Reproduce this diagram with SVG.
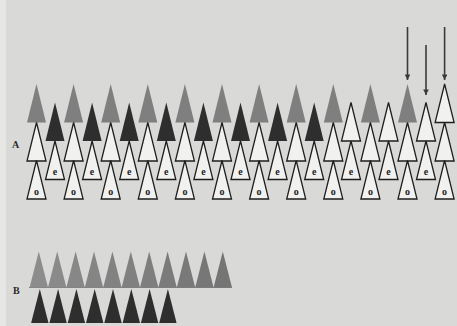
<svg xmlns="http://www.w3.org/2000/svg" xmlns:xlink="http://www.w3.org/1999/xlink" width="457" height="326" viewBox="0 0 457 326">
<style>
.w{fill:#f1f1ef;stroke:#1e1e1e;stroke-width:1.3;stroke-linejoin:miter}
.g{fill:#7f7f7f}
.d{fill:#2e2e2e}
.lt{font-family:"Liberation Serif",serif;font-size:10px;font-weight:bold;fill:#222222;text-anchor:middle}
.lab{font-family:"Liberation Serif",serif;font-size:10px;font-weight:bold;fill:#2a2a2a}
.arr{stroke:#3a3a3a;stroke-width:1.6;fill:none}
</style>
<defs>
<path id="t" d="M0,0 L9.5,38.5 L-9.5,38.5 Z"/>
<path id="tb" d="M0,0 L9.2,36 L-9.2,36 Z"/>
<path id="tk" d="M0,0 L8.7,34 L-8.7,34 Z"/>
<marker id="ah" viewBox="0 0 10 10" refX="10" refY="5" markerWidth="4.5" markerHeight="3.5" orient="auto" markerUnits="strokeWidth">
<path d="M0,0 L10,5 L0,10 Z" fill="#3a3a3a"/>
</marker>
</defs>
<rect width="457" height="326" fill="#d9d9d7"/>
<rect width="6" height="326" fill="#e6e6e4"/>

<text class="lab" x="12" y="148">A</text>
<text class="lab" x="13" y="294">B</text>

<!-- odd columns -->
<g id="o1"><use href="#t" x="36.5" y="84" class="g"/><use href="#t" x="36.5" y="122.5" class="w"/><use href="#t" x="36.5" y="160.5" class="w"/><text class="lt" x="36.5" y="194.5">o</text></g>
<g id="o2"><use href="#t" x="73.6" y="84" class="g"/><use href="#t" x="73.6" y="122.5" class="w"/><use href="#t" x="73.6" y="160.5" class="w"/><text class="lt" x="73.6" y="194.5">o</text></g>
<g id="o3"><use href="#t" x="110.7" y="84" class="g"/><use href="#t" x="110.7" y="122.5" class="w"/><use href="#t" x="110.7" y="160.5" class="w"/><text class="lt" x="110.7" y="194.5">o</text></g>
<g id="o4"><use href="#t" x="147.8" y="84" class="g"/><use href="#t" x="147.8" y="122.5" class="w"/><use href="#t" x="147.8" y="160.5" class="w"/><text class="lt" x="147.8" y="194.5">o</text></g>
<g id="o5"><use href="#t" x="184.9" y="84" class="g"/><use href="#t" x="184.9" y="122.5" class="w"/><use href="#t" x="184.9" y="160.5" class="w"/><text class="lt" x="184.9" y="194.5">o</text></g>
<g id="o6"><use href="#t" x="222" y="84" class="g"/><use href="#t" x="222" y="122.5" class="w"/><use href="#t" x="222" y="160.5" class="w"/><text class="lt" x="222" y="194.5">o</text></g>
<g id="o7"><use href="#t" x="259.1" y="84" class="g"/><use href="#t" x="259.1" y="122.5" class="w"/><use href="#t" x="259.1" y="160.5" class="w"/><text class="lt" x="259.1" y="194.5">o</text></g>
<g id="o8"><use href="#t" x="296.2" y="84" class="g"/><use href="#t" x="296.2" y="122.5" class="w"/><use href="#t" x="296.2" y="160.5" class="w"/><text class="lt" x="296.2" y="194.5">o</text></g>
<g id="o9"><use href="#t" x="333.3" y="84" class="g"/><use href="#t" x="333.3" y="122.5" class="w"/><use href="#t" x="333.3" y="160.5" class="w"/><text class="lt" x="333.3" y="194.5">o</text></g>
<g id="o10"><use href="#t" x="370.4" y="84" class="g"/><use href="#t" x="370.4" y="122.5" class="w"/><use href="#t" x="370.4" y="160.5" class="w"/><text class="lt" x="370.4" y="194.5">o</text></g>
<g id="o11"><use href="#t" x="407.5" y="84" class="g"/><use href="#t" x="407.5" y="122.5" class="w"/><use href="#t" x="407.5" y="160.5" class="w"/><text class="lt" x="407.5" y="194.5">o</text></g>
<g id="o12"><use href="#t" x="444.6" y="84" class="w"/><use href="#t" x="444.6" y="122.5" class="w"/><use href="#t" x="444.6" y="160.5" class="w"/><text class="lt" x="444.6" y="194.5">o</text></g>

<!-- even columns -->
<g id="e1"><use href="#t" x="55" y="102.5" class="d"/><use href="#t" x="55" y="141" class="w"/><text class="lt" x="55" y="174.5">e</text></g>
<g id="e2"><use href="#t" x="92.1" y="102.5" class="d"/><use href="#t" x="92.1" y="141" class="w"/><text class="lt" x="92.1" y="174.5">e</text></g>
<g id="e3"><use href="#t" x="129.2" y="102.5" class="d"/><use href="#t" x="129.2" y="141" class="w"/><text class="lt" x="129.2" y="174.5">e</text></g>
<g id="e4"><use href="#t" x="166.3" y="102.5" class="d"/><use href="#t" x="166.3" y="141" class="w"/><text class="lt" x="166.3" y="174.5">e</text></g>
<g id="e5"><use href="#t" x="203.4" y="102.5" class="d"/><use href="#t" x="203.4" y="141" class="w"/><text class="lt" x="203.4" y="174.5">e</text></g>
<g id="e6"><use href="#t" x="240.5" y="102.5" class="d"/><use href="#t" x="240.5" y="141" class="w"/><text class="lt" x="240.5" y="174.5">e</text></g>
<g id="e7"><use href="#t" x="277.6" y="102.5" class="d"/><use href="#t" x="277.6" y="141" class="w"/><text class="lt" x="277.6" y="174.5">e</text></g>
<g id="e8"><use href="#t" x="314.2" y="102.5" class="d"/><use href="#t" x="314.2" y="141" class="w"/><text class="lt" x="314.2" y="174.5">e</text></g>
<g id="e9"><use href="#t" x="351" y="102.5" class="w"/><use href="#t" x="351" y="141" class="w"/><text class="lt" x="351" y="174.5">e</text></g>
<g id="e10"><use href="#t" x="388.5" y="102.5" class="w"/><use href="#t" x="388.5" y="141" class="w"/><text class="lt" x="388.5" y="174.5">e</text></g>
<g id="e11"><use href="#t" x="426" y="102.5" class="w"/><use href="#t" x="426" y="141" class="w"/><text class="lt" x="426" y="174.5">e</text></g>

<!-- B rows -->
<g id="B-grey" fill="#808080">
<line x1="29" y1="287.5" x2="232" y2="287.5" stroke="#808080" stroke-width="1.2"/>
<use href="#tb" x="38.8" y="251.5" fill="#8c8c8c"/>
<use href="#tb" x="57.2" y="251.5" fill="#8a8a8a"/>
<use href="#tb" x="75.6" y="251.5" fill="#878787"/>
<use href="#tb" x="94" y="251.5" fill="#858585"/>
<use href="#tb" x="112.4" y="251.5" fill="#828282"/>
<use href="#tb" x="130.8" y="251.5" fill="#808080"/>
<use href="#tb" x="149.2" y="251.5" fill="#7e7e7e"/>
<use href="#tb" x="167.6" y="251.5" fill="#7b7b7b"/>
<use href="#tb" x="186" y="251.5" fill="#797979"/>
<use href="#tb" x="204.4" y="251.5" fill="#777777"/>
<use href="#tb" x="222.8" y="251.5" fill="#757575"/>
</g>
<g id="B-dark" class="d">
<use href="#tk" x="39.8" y="289"/>
<use href="#tk" x="58.1" y="289"/>
<use href="#tk" x="76.4" y="289"/>
<use href="#tk" x="94.7" y="289"/>
<use href="#tk" x="113" y="289"/>
<use href="#tk" x="131.3" y="289"/>
<use href="#tk" x="149.6" y="289"/>
<use href="#tk" x="167.9" y="289"/>
</g>

<!-- connectors -->
<g id="arrows">
<line class="arr" x1="407.5" y1="27" x2="407.5" y2="80" marker-end="url(#ah)"/>
<line class="arr" x1="426" y1="45" x2="426" y2="95" marker-end="url(#ah)"/>
<line class="arr" x1="444.6" y1="27" x2="444.6" y2="80" marker-end="url(#ah)"/>
</g>
</svg>
